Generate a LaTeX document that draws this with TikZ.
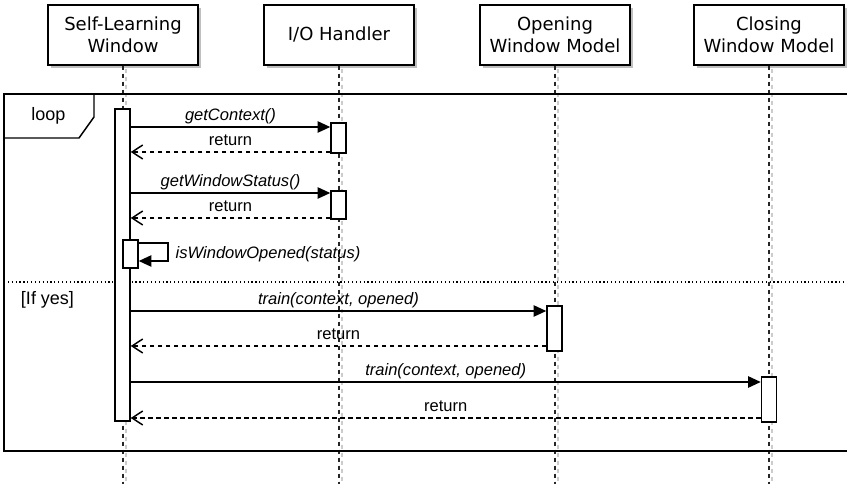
\documentclass[tikz,border=0pt]{standalone}
\usepackage{fontspec}
\setmainfont{Liberation Sans}
\newfontfamily\hdrfont{DejaVu Sans}
\usetikzlibrary{arrows.meta,shadows}

\begin{document}
\begin{tikzpicture}[x=0.75pt,y=-0.75pt,
  line width=1.1pt,
  header/.style={draw, fill=white, minimum width=112.5pt, minimum height=45pt,
    align=center, inner sep=0pt, font=\hdrfont\fontsize{13.5}{16.5}\selectfont,
    drop shadow={shadow xshift=2.25pt, shadow yshift=-2.25pt, fill=black!25, opacity=1}},
  lifeline/.style={draw=black!85, dash pattern=on 3.4pt off 2.6pt},
  lifeshadow/.style={draw=black!20, dash pattern=on 3.4pt off 2.6pt},
  act/.style={draw, fill=white, minimum width=11.25pt, inner sep=0pt},
  call/.style={-{Triangle[length=9.5pt,width=8.5pt]}},
  ret/.style={dash pattern=on 3.4pt off 2.6pt, -{Straight Barb[length=8pt,width=10.5pt]}},
  lbl/.style={midway, anchor=base, yshift=4.5pt, inner sep=0pt, font=\itshape\fontsize{12.4}{14}\selectfont},
  rlbl/.style={midway, anchor=base, yshift=4.5pt, inner sep=0pt, font=\fontsize{12.4}{14}\selectfont},
  framelbl/.style={font=\fontsize{13.5}{16}\selectfont, inner sep=0pt}
]
\useasboundingbox (0,0) rectangle (847,484);
\fill[white] (0,0) rectangle (847,484);

% headers
\node[header] (h1) at (123,35) {Self-Learning\\Window};
\node[header] (h2) at (339,35) {I/O Handler};
\node[header] (h3) at (555,35) {Opening\\Window Model};
\node[header] (h4) at (769,35) {Closing\\Window Model};

% lifelines
\foreach \h in {h1,h2,h3,h4} {
  \draw[lifeshadow] ([xshift=2.25pt,yshift=-2.25pt]\h.south) -- ([xshift=2.25pt]\h.south |- 0,484);
  \draw[lifeline] (\h.south) -- (\h.south |- 0,484);
}

% loop frame
\draw (847,94) -- (4,94) -- (4,451) -- (847,451);
\draw (4,138) -- (79,138) -- (94,117) -- (94,94);
\node[framelbl] (looplbl) at (48.5,116) {loop};
\draw[dotted, line width=0.9pt] (4,282) -- (847,282);
\node[framelbl] (ifyes) at (47.5,300) {[If yes]};

% activations
\node[act, minimum height=234pt] (a1) at (122.5,265) {};
\node[act, minimum height=22.5pt] (io1) at (338.5,138) {};
\node[act, minimum height=21pt] (io2) at (338.5,205) {};
\node[act, minimum height=21pt] (self) at (130.5,254) {};
\node[act, minimum height=33.75pt] (op) at (554.5,328.5) {};
\node[act, minimum height=33.75pt] (cl) at (769,399.5) {};

% messages
\draw[call] (a1.east |- 0,127) -- (io1.west |- 0,127) node[lbl] {getContext()};
\draw[ret] (io1.west |- 0,152) -- (a1.east |- 0,152) node[rlbl] {return};
\draw[call] (a1.east |- 0,193) -- (io2.west |- 0,193) node[lbl] {getWindowStatus()};
\draw[ret] (io2.west |- 0,218) -- (a1.east |- 0,218) node[rlbl] {return};

\coordinate (selfturn) at (168,243);
\draw[call] (self.east |- 0,243) -- (selfturn) -- (selfturn |- 0,261) -- (self.east |- 0,261);
\node[anchor=west, inner sep=0pt, font=\itshape\fontsize{12.4}{14}\selectfont] (selflbl) at (175,254) {isWindowOpened(status)};

\draw[call] (a1.east |- 0,311) -- (op.west |- 0,311) node[lbl] {train(context, opened)};
\draw[ret] (op.west |- 0,346) -- (a1.east |- 0,346) node[rlbl] {return};
\draw[call] (a1.east |- 0,382) -- (cl.west |- 0,382) node[lbl] {train(context, opened)};
\draw[ret] (cl.west |- 0,418) -- (a1.east |- 0,418) node[rlbl] {return};
\end{tikzpicture}
\end{document}
